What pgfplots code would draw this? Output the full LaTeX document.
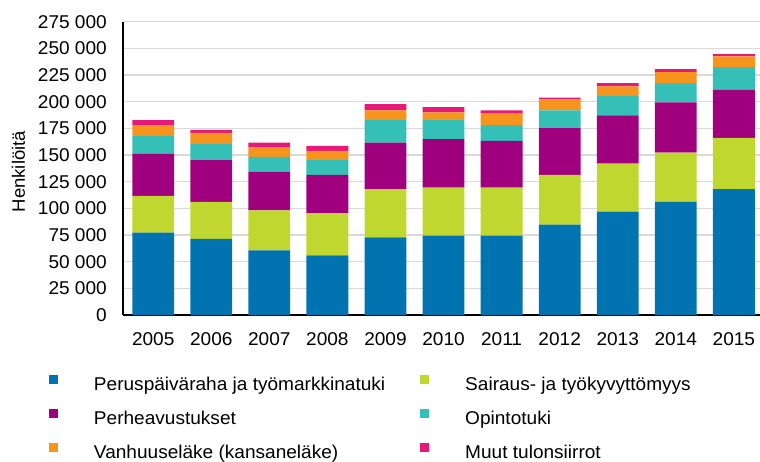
\documentclass[border=0pt]{standalone}
\usepackage{pgfplots}
\pgfplotsset{compat=1.18}
\usepackage{pgfplotstable}
\usepackage{fontspec}
\setmainfont[FakeStretch=1.03]{Liberation Sans}

\definecolor{cblue}{RGB}{0,115,176}
\definecolor{cgreen}{RGB}{192,215,47}
\definecolor{cpurple}{RGB}{160,0,125}
\definecolor{cteal}{RGB}{52,192,183}
\definecolor{corange}{RGB}{247,148,30}
\definecolor{cpink}{RGB}{232,24,120}

\pgfplotstableread{
x blue green purple teal orange pink
0  77300 34400 39300 16700 10300 4700
1  71300 34700 39200 15000 10600 2800
2  60700 37500 36300 13800  9100 4300
3  56000 39400 36000 13800  8700 4700
4  72900 45100 43700 21000  9100 5900
5  74400 45100 45400 17800  7200 5100
6  74400 45100 43800 14700 10700 3100
7  84800 46600 43800 16600 10300 1600
8  97000 45000 45100 18200  9000 3200
9 106100 46200 47000 18200 10300 2800
10 118000 48100 45100 21300 10000 2200
}\datatable

\pgfplotsset{sqlegend/.style={legend image code/.code={\fill[##1,draw=none] (0pt,2.1pt) rectangle (9pt,11.1pt); \path (45pt,0pt);}}}

\begin{document}
\begin{tikzpicture}[x=1pt,y=1pt]
\path[use as bounding box] (0,0) rectangle (760,461);
\begin{axis}[
  at={(123pt,146pt)}, anchor=south west,
  scale only axis, width=637pt, height=293.3pt,
  ybar stacked, bar width=0.72,
  xmin=-0.52, xmax=10.45,
  ymin=0, ymax=275000,
  ytick={0,25000,50000,75000,100000,125000,150000,175000,200000,225000,250000,275000},
  yticklabels={0,25 000,50 000,75 000,100 000,125 000,150 000,175 000,200 000,225 000,250 000,275 000},
  xtick={0,...,10},
  xticklabels={2005,2006,2007,2008,2009,2010,2011,2012,2013,2014,2015},
  axis x line*=bottom, axis y line*=left,
  axis line style={black, line width=1.2pt, -},
  ymajorgrids, grid style={black!15, line width=1.2pt},
  major tick length=0pt,
  tick label style={font=\fontsize{18.5}{21}\selectfont},
  scaled y ticks=false,
  xticklabel style={inner sep=0pt, yshift=-17pt, anchor=north},
  yticklabel style={inner sep=0pt, xshift=-16pt, anchor=east},
  ylabel={Henkilöitä},
  ylabel style={at={(axis description cs:-0.1640,0.489)}, anchor=center, font=\fontsize{18}{20}\selectfont},
  legend columns=2,
  legend cell align=left,
  legend style={
    at={(axis description cs:-0.1162,-0.2046)}, anchor=north west,
    draw=none, fill=none, inner sep=0pt, outer sep=0pt,
    font=\fontsize{18.5}{21}\selectfont,
    nodes={inner sep=0pt, text height=13pt, text depth=5pt},
    row sep=14pt,
    /tikz/column 2/.style={column sep=35pt},
  },
]
\addplot+[fill=cblue, draw=none, sqlegend] table[x=x, y=blue] {\datatable};
\addlegendentry{Peruspäiväraha ja työmarkkinatuki}
\addplot+[fill=cgreen, draw=none, sqlegend] table[x=x, y=green] {\datatable};
\addlegendentry{Sairaus- ja työkyvyttömyys}
\addplot+[fill=cpurple, draw=none, sqlegend] table[x=x, y=purple] {\datatable};
\addlegendentry{Perheavustukset}
\addplot+[fill=cteal, draw=none, sqlegend] table[x=x, y=teal] {\datatable};
\addlegendentry{Opintotuki}
\addplot+[fill=corange, draw=none, sqlegend] table[x=x, y=orange] {\datatable};
\addlegendentry{Vanhuuseläke (kansaneläke)}
\addplot+[fill=cpink, draw=none, sqlegend] table[x=x, y=pink] {\datatable};
\addlegendentry{Muut tulonsiirrot}
\end{axis}
\end{tikzpicture}
\end{document}
